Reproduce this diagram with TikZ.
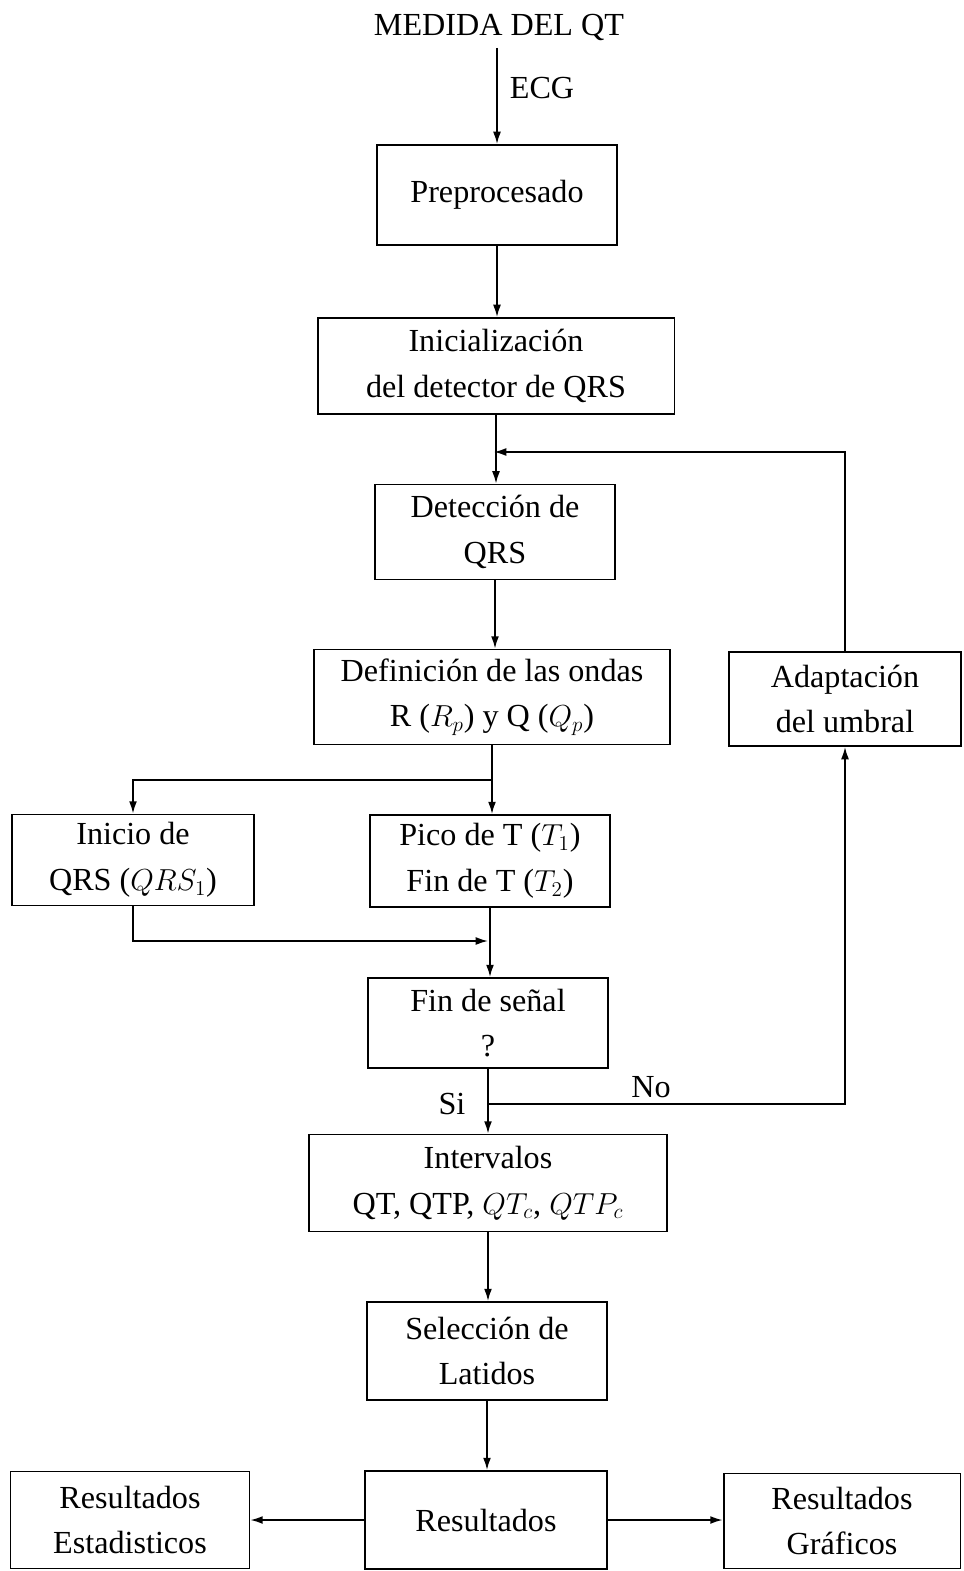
\documentclass[tikz,border=0pt]{standalone}
\usepackage{fontspec}
\setmainfont{Liberation Serif}
\usepackage{tikz}
\usetikzlibrary{arrows.meta, positioning}
\newcommand{\chartfont}{\fontsize{18.3}{26}\selectfont}

\begin{document}
\begin{tikzpicture}[
    x=0.02cm, y=-0.02cm,
    blk/.style={rectangle, draw, line width=1.1pt, align=center,
                font=\chartfont, inner sep=2pt},
    lbl/.style={font=\chartfont, inner sep=1pt},
    arr/.style={line width=0.9pt, -{Latex[length=7pt,width=4.5pt]}},
]
  \useasboundingbox (0,0) rectangle (963,1571);

  % ---- main column ----
  \node[lbl] (title) at (499,27) {MEDIDA DEL QT};
  \node[blk, minimum width=4.8cm,  minimum height=2.0cm]  (prep)  at (497,195)  {Preprocesado};
  \node[blk, minimum width=7.14cm, minimum height=1.92cm] (ini)   at (496,366)  {Inicialización\\del detector de QRS};
  \node[blk, minimum width=4.8cm,  minimum height=1.9cm]  (det)   at (495,532)  {Detección de\\QRS};
  \node[blk, minimum width=7.12cm, minimum height=1.9cm]  (defo)  at (492,697)  {Definición de las ondas\\R ($R_p$) y Q ($Q_p$)};
  \node[blk, minimum width=4.8cm,  minimum height=1.84cm] (pico)  at (490,861)  {Pico de T ($T_1$)\\Fin de T ($T_2$)};
  \node[blk, minimum width=4.8cm,  minimum height=1.8cm]  (fin)   at (488,1023) {Fin de señal\\?};
  \node[blk, minimum width=7.16cm, minimum height=1.94cm] (inter) at (488,1183) {Intervalos\\QT, QTP, $QT_c$, $QTP_c$};
  \node[blk, minimum width=4.8cm,  minimum height=1.96cm] (sel)   at (487,1351) {Selección de\\Latidos};
  \node[blk, minimum width=4.84cm, minimum height=1.96cm] (res)   at (486,1520) {Resultados};

  % ---- side boxes ----
  \node[blk, minimum width=4.64cm, minimum height=1.88cm] (adapt) at (845,699)  {Adaptación\\del umbral};
  \node[blk, minimum width=4.84cm, minimum height=1.82cm] (inicio) at (133,860) {Inicio de\\QRS ($QRS_1$)};
  \node[blk, minimum width=4.78cm, minimum height=1.94cm] (est)   at (130,1520) {Resultados\\Estadisticos};
  \node[blk, minimum width=4.74cm, minimum height=1.9cm]  (graf)  at (842,1521) {Resultados\\Gráficos};

  % ---- labels ----
  \node[lbl] (ecg) at (542,88)   {ECG};
  \node[lbl] (si)  at (452,1104) {Si};
  \node[lbl] (no)  at (651,1087) {No};

  % ---- junctions ----
  \coordinate (loop)  at (494,452);
  \coordinate (split) at (490,780);
  \coordinate (merge) at (488,941);
  \coordinate (junc)  at (487,1104);

  % ---- connectors ----
  \draw[arr] (prep.north |- 0,48) -- (prep.north);
  \draw[arr] (prep.south) -- (prep.south |- ini.north);
  \draw[arr] (ini.south) -- (ini.south |- det.north);
  \draw[arr] (det.south) -- (det.south |- defo.north);
  \draw[arr] (defo.south) -- (defo.south |- pico.north);
  \draw[arr] (defo.south |- split) -| (inicio.north);
  \draw[arr] (inicio.south) |- (merge);
  \draw[arr] (pico.south) -- (pico.south |- fin.north);
  \draw[arr] (fin.south) -- (fin.south |- inter.north);
  \draw[arr] (junc) -| (adapt.south);
  \draw[arr] (adapt.north) |- (loop);
  \draw[arr] (inter.south) -- (inter.south |- sel.north);
  \draw[arr] (sel.south) -- (sel.south |- res.north);
  \draw[arr] (res.west) -- (res.west -| est.east);
  \draw[arr] (res.east) -- (res.east -| graf.west);
\end{tikzpicture}
\end{document}
